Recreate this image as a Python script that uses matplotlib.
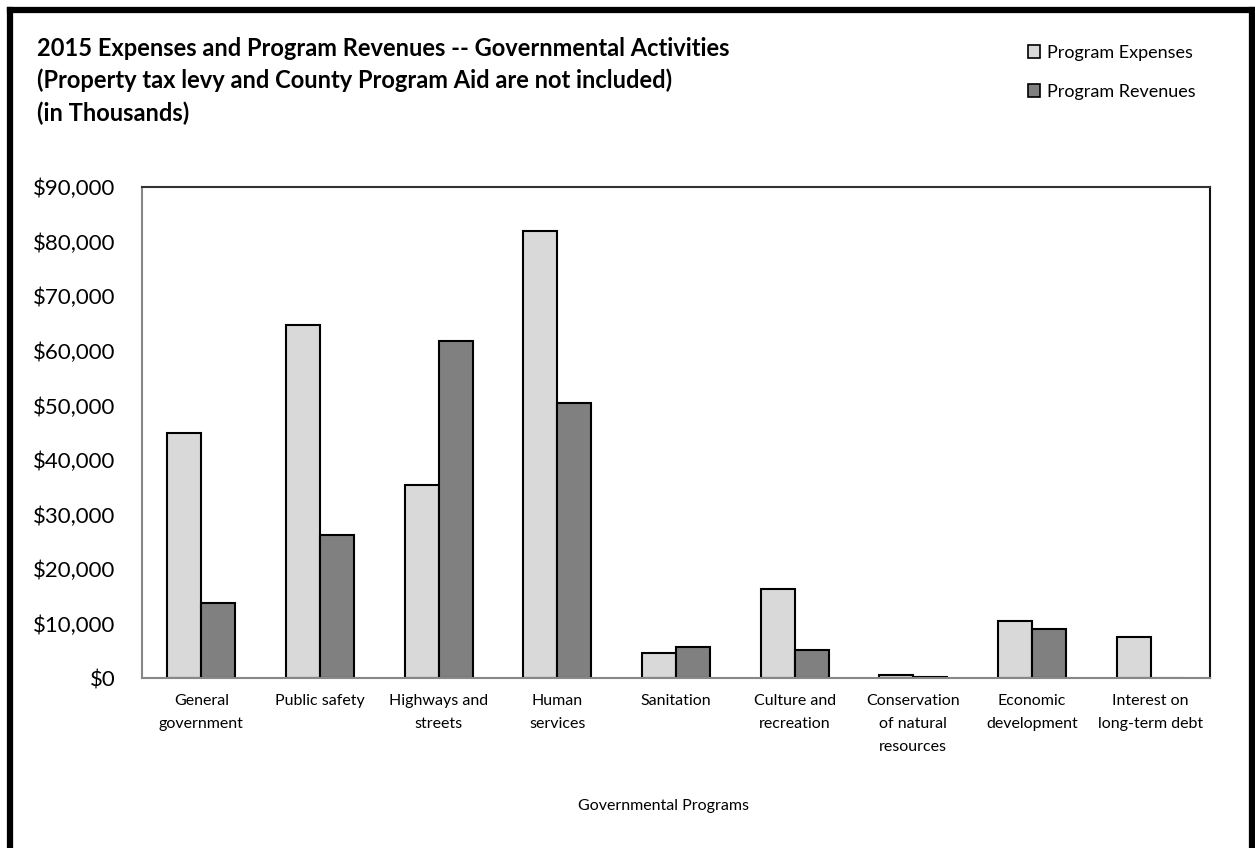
import matplotlib.pyplot as plt
import numpy as np
from matplotlib.lines import Line2D
from matplotlib.patches import Patch

# data (in thousands)
programs = ["General\ngovernment", "Public safety", "Highways and\nstreets", "Human\nservices",
            "Sanitation", "Culture and\nrecreation", "Conservation\nof natural\nresources",
            "Economic\ndevelopment", "Interest on\nlong-term debt"]
expenses = [44950, 64700, 35500, 81900, 4700, 16350, 700, 10550, 7650]
revenues = [13900, 26250, 61750, 50450, 5800, 5150, 300, 9050, 0]
yticks = [0, 10000, 20000, 30000, 40000, 50000, 60000, 70000, 80000, 90000]

plt.rcParams['font.family'] = ['Lato', 'DejaVu Sans']

fig = plt.figure(figsize=(12.55, 8.48), dpi=100)
ax = fig.add_axes([0.1131, 0.1999, 0.8510, 0.5796])

x = np.arange(len(programs))
w = 0.287
ax.bar(x - w / 2, expenses, w, color='#d9d9d9', edgecolor='black', linewidth=1.5, label='Program Expenses')
ax.bar(x + w / 2, revenues, w, color='#808080', edgecolor='black', linewidth=1.5, label='Program Revenues')

ax.set_xlim(-0.5, len(programs) - 0.5)
ax.set_ylim(0, 90000)
ax.set_yticks(yticks)
ax.set_yticklabels(['${:,}'.format(v) for v in yticks], fontsize=16)
ax.set_xticks(x)
ax.set_xticklabels(programs, fontsize=11.5, linespacing=1.8, va='top')
ax.tick_params(axis='y', length=0, pad=19)
ax.tick_params(axis='x', length=0, pad=11.5)

ax.spines['left'].set_color('#888888')
ax.spines['bottom'].set_color('#888888')
ax.spines['top'].set_color('#333333')
ax.spines['right'].set_color('#111111')
for s in ax.spines.values():
    s.set_linewidth(1.5)

fig.text(663 / 1255, 1 - 806 / 848, 'Governmental Programs', ha='center', va='center', fontsize=11.5)

fig.text(37 / 1255, 1 - 37 / 848,
         '2015 Expenses and Program Revenues -- Governmental Activities\n'
         '(Property tax levy and County Program Aid are not included)\n'
         '(in Thousands)',
         ha='left', va='top', fontsize=17, fontweight='bold', linespacing=1.45)

handles = [Patch(facecolor='#d9d9d9', edgecolor='black', linewidth=1.2),
           Patch(facecolor='#808080', edgecolor='black', linewidth=1.2)]
fig.legend(handles, ['Program Expenses', 'Program Revenues'], loc='upper right',
           bbox_to_anchor=(1196 / 1255, 1 - 45 / 848), frameon=False, fontsize=13,
           handlelength=0.7, handleheight=0.7, handletextpad=0.4, labelspacing=1.25,
           borderpad=0, borderaxespad=0)

# thick frame around the chart (bottom edge is cut off)
fl, ft, fr = 10 / 1255, 1 - 10 / 848, 1251.5 / 1255
for xs, ys in [([fl, fl], [-0.02, ft]), ([fl, fr], [ft, ft]), ([fr, fr], [-0.02, ft])]:
    fig.add_artist(Line2D(xs, ys, color='black', linewidth=4.5, transform=fig.transFigure,
                          solid_capstyle='projecting'))

fig.savefig('out.png', dpi=100)
